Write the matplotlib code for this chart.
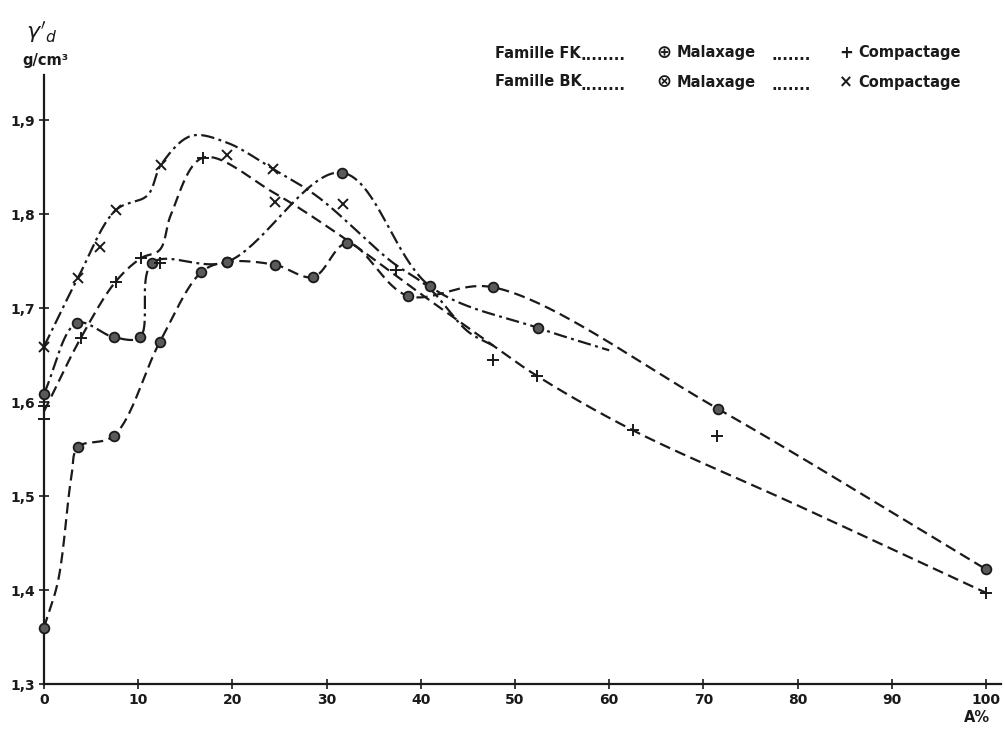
import numpy as np
import matplotlib
matplotlib.use("Agg")
import matplotlib.pyplot as plt

# ── values ─────────────────────────────────────────────────────────────────
# Famille FK, malaxage (circles, dashed)
fk_mal_x = [0, 3.6, 7.4, 12.3, 16.7, 19.4, 24.5, 28.6, 32.2, 38.6, 47.7, 71.5, 100]
fk_mal_y = [1.36, 1.552, 1.564, 1.664, 1.738, 1.749, 1.746, 1.733, 1.769, 1.713, 1.722, 1.593, 1.422]
fk_mal_curve_x = [0, 1.5, 2.9] + fk_mal_x[1:]
fk_mal_curve_y = [1.36, 1.41, 1.52] + fk_mal_y[1:]

# Famille FK, compactage (plus, dashed)
fk_comp_x = [0, 0, 3.9, 7.6, 10.3, 12.3, 16.9, 37.4, 47.7, 52.3, 62.5, 71.4, 100]
fk_comp_y = [1.596, 1.582, 1.668, 1.728, 1.753, 1.748, 1.860, 1.740, 1.645, 1.628, 1.570, 1.564, 1.397]
fk_comp_curve_x = [0, 3.9, 7.6, 10.3, 12.3, 13.5, 16.9, 24.5, 32.2, 40, 47.7, 52.3, 62.5, 80, 100]
fk_comp_curve_y = [1.59, 1.668, 1.728, 1.753, 1.762, 1.80, 1.860, 1.822, 1.772, 1.715, 1.66, 1.628, 1.570, 1.49, 1.397]

# Famille BK, malaxage (circles, dash-dot)
bk_mal_x = [0, 3.5, 7.4, 10.2, 11.5, 19.4, 31.6, 41, 52.4]
bk_mal_y = [1.609, 1.684, 1.669, 1.669, 1.748, 1.749, 1.844, 1.723, 1.679]
bk_mal_curve_x = bk_mal_x + [60]
bk_mal_curve_y = bk_mal_y + [1.655]

# Famille BK, compactage (crosses, dash-dot)
bk_comp_x = [0, 3.6, 5.9, 7.6, 12.4, 19.4, 24.3, 24.5, 31.7]
bk_comp_y = [1.659, 1.732, 1.765, 1.804, 1.852, 1.863, 1.848, 1.813, 1.811]
bk_comp_curve_x = [0, 3.6, 7.6, 11.0, 12.4, 15.6, 19.4, 24.3, 29.1, 36.8, 40.8, 45, 47.7]
bk_comp_curve_y = [1.659, 1.732, 1.804, 1.82, 1.852, 1.883, 1.876, 1.848, 1.818, 1.75, 1.722, 1.675, 1.66]

x_ticks = [0, 10, 20, 30, 40, 50, 60, 70, 80, 90, 100]
y_ticks = [1.3, 1.4, 1.5, 1.6, 1.7, 1.8, 1.9]

SX, SY = 9.42, 940.0   # px per unit, used to make the spline isotropic
INK = "#1a1a1a"
DASH = (0, (5, 2.5))
DASHDOT = (0, (6, 2, 1.3, 2))


def smooth(xs, ys, n=40):
    """centripetal Catmull-Rom through hand-drawn curve knots"""
    P = np.column_stack([np.asarray(xs, float) * SX, np.asarray(ys, float) * SY])
    P = np.vstack([2 * P[0] - P[1], P, 2 * P[-1] - P[-2]])
    out = []
    for i in range(1, len(P) - 2):
        p0, p1, p2, p3 = P[i - 1], P[i], P[i + 1], P[i + 2]
        t0 = 0.0
        t1 = t0 + np.linalg.norm(p1 - p0) ** 0.5
        t2 = t1 + np.linalg.norm(p2 - p1) ** 0.5
        t3 = t2 + np.linalg.norm(p3 - p2) ** 0.5
        t = np.linspace(t1, t2, n)[:, None]
        A1 = (t1 - t) / (t1 - t0) * p0 + (t - t0) / (t1 - t0) * p1
        A2 = (t2 - t) / (t2 - t1) * p1 + (t - t1) / (t2 - t1) * p2
        A3 = (t3 - t) / (t3 - t2) * p2 + (t - t2) / (t3 - t2) * p3
        B1 = (t2 - t) / (t2 - t0) * A1 + (t - t0) / (t2 - t0) * A2
        B2 = (t3 - t) / (t3 - t1) * A2 + (t - t1) / (t3 - t1) * A3
        C = (t2 - t) / (t2 - t1) * B1 + (t - t1) / (t2 - t1) * B2
        out.append(C if i == 1 else C[1:])
    C = np.vstack(out)
    return C[:, 0] / SX, C[:, 1] / SY


fig = plt.figure(figsize=(10.05, 7.32), dpi=100)
ax = fig.add_axes([44 / 1005, 48 / 732, 957 / 1005, 609 / 732])
ax.set_xlim(0, 957 / SX)
ax.set_ylim(1.3, 1.3 + 609 / SY)

# ── curves ─────────────────────────────────────────────────────────────────
for cx, cy, ls in [(fk_mal_curve_x, fk_mal_curve_y, DASH),
                   (fk_comp_curve_x, fk_comp_curve_y, DASH),
                   (bk_mal_curve_x, bk_mal_curve_y, DASHDOT),
                   (bk_comp_curve_x, bk_comp_curve_y, DASHDOT)]:
    sx, sy = smooth(cx, cy)
    ax.plot(sx, sy, color=INK, lw=1.6, linestyle=ls, clip_on=False, zorder=2)

# ── markers ────────────────────────────────────────────────────────────────
ax.plot(fk_mal_x, fk_mal_y, "o", ms=7, mfc="#5a5a5a", mec=INK, mew=1.3,
        linestyle="none", clip_on=False, zorder=4)
ax.plot(bk_mal_x, bk_mal_y, "o", ms=7, mfc="#5a5a5a", mec=INK, mew=1.3,
        linestyle="none", clip_on=False, zorder=4)
ax.plot(fk_comp_x, fk_comp_y, "+", ms=8, mec=INK, mew=1.4,
        linestyle="none", clip_on=False, zorder=4)
ax.plot(bk_comp_x, bk_comp_y, "x", ms=6.5, mec=INK, mew=1.4,
        linestyle="none", clip_on=False, zorder=4)

# ── axes ───────────────────────────────────────────────────────────────────
for s in ["top", "right"]:
    ax.spines[s].set_visible(False)
for s in ["left", "bottom"]:
    ax.spines[s].set_linewidth(1.6)
    ax.spines[s].set_color(INK)

ax.set_xticks(x_ticks)
ax.set_xticklabels([str(v) for v in x_ticks])
ax.set_yticks(y_ticks)
ax.set_yticklabels([f"{v:.1f}".replace(".", ",") for v in y_ticks])
ax.tick_params(direction="inout", length=7, width=1.2, colors=INK,
               labelsize=10, pad=3)
for lab in ax.get_xticklabels() + ax.get_yticklabels():
    lab.set_fontweight("bold")

# axis titles
fig.text(26 / 1005, 1 - 32 / 732, r"$\gamma'_d$", fontsize=16, color=INK,
         ha="left", va="center")
fig.text(22 / 1005, 1 - 60 / 732, "g/cm³", fontsize=10.5, fontweight="bold",
         color=INK, ha="left", va="center")
fig.text(977 / 1005, 1 - 718 / 732, "A%", fontsize=10.5, fontweight="bold",
         color=INK, ha="center", va="center")

# legend written as text, as in the figure
rows = [
    (53, "Famille FK", "⊕", "+"),
    (82, "Famille BK", "⊗", "×"),
]
for y, fam, m1, m2 in rows:
    kw = dict(fontsize=10.5, fontweight="bold", color=INK, va="center")
    fig.text(495 / 1005, 1 - y / 732, fam, ha="left", **kw)
    fig.text(580 / 1005, 1 - (y + 3) / 732, "........", ha="left", **kw)
    fig.text(664 / 1005, 1 - y / 732, m1, ha="center",
             **{**kw, "fontsize": 13})
    fig.text(677 / 1005, 1 - y / 732, "Malaxage", ha="left", **kw)
    fig.text(771 / 1005, 1 - (y + 3) / 732, ".......", ha="left", **kw)
    fig.text(846 / 1005, 1 - y / 732, m2, ha="center",
             **{**kw, "fontsize": 12})
    fig.text(858 / 1005, 1 - y / 732, "Compactage", ha="left", **kw)

plt.savefig("out.png", dpi=100)
plt.close()
